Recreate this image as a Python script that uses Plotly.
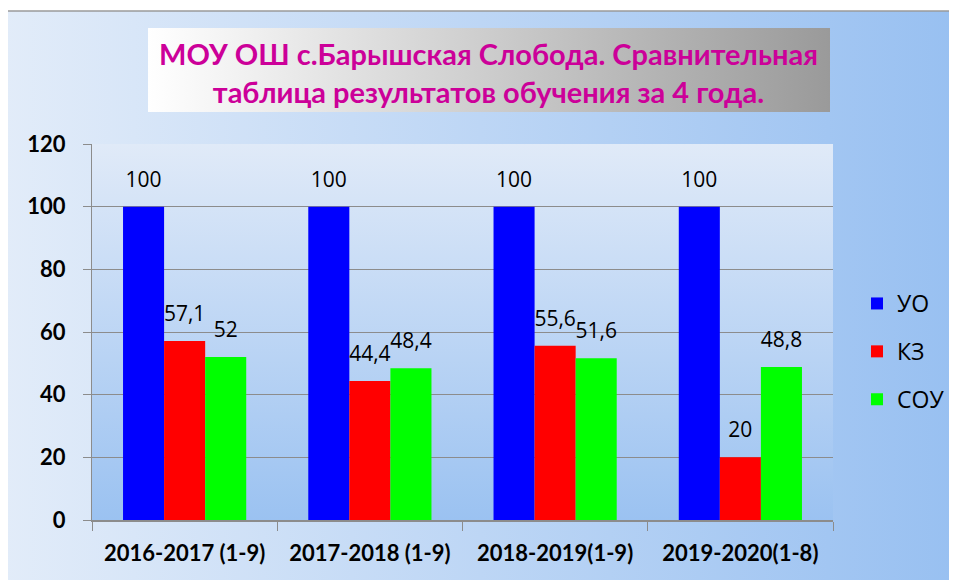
import base64
import plotly.graph_objects as go

categories = ["2016-2017 (1-9)", "2017-2018 (1-9)", "2018-2019(1-9)", "2019-2020(1-8)"]
uo = [100, 100, 100, 100]
kz = [57.1, 44.4, 55.6, 20]
sou = [52, 48.4, 51.6, 48.8]
series_names = ["УО", "КЗ", "СОУ"]
title_lines = ["МОУ ОШ с.Барышская Слобода. Сравнительная", "таблица результатов обучения за 4 года."]
y_ticks = [0, 20, 40, 60, 80, 100, 120]

# page body has an 8px margin, so the figure is sized/offset to compensate
OFF = 8
W, H = 957 - OFF, 580 - OFF
L, R, T, B = 92 - OFF, 833 - OFF, 144 - OFF, 520 - OFF  # plot area in figure px
PW, PH = R - L, B - T


def fmt(v):
    return ("%g" % v).replace(".", ",")


def grad_svg(c1, c2, horizontal=True):
    x2, y2 = ("1", "0") if horizontal else ("0", "1")
    svg = ('<svg xmlns="http://www.w3.org/2000/svg" width="100" height="100" preserveAspectRatio="none">'
           '<defs><linearGradient id="g" x1="0" y1="0" x2="%s" y2="%s">'
           '<stop offset="0" stop-color="%s"/><stop offset="1" stop-color="%s"/>'
           '</linearGradient></defs><rect width="100" height="100" fill="url(#g)"/></svg>') % (x2, y2, c1, c2)
    return "data:image/svg+xml;base64," + base64.b64encode(svg.encode()).decode()


def px_x(px):
    return (px - L) / PW


def px_y(py):
    return (B - py) / PH


def px_img(src, x0, y0, x1, y1):
    return dict(source=src, xref="paper", yref="paper",
                x=px_x(x0), y=px_y(y0), sizex=(x1 - x0) / PW, sizey=(y1 - y0) / PH,
                xanchor="left", yanchor="top", sizing="stretch", layer="below")


fig = go.Figure()
colors = ["#0000ff", "#ff0000", "#00ff00"]
for i, (name, vals, col) in enumerate(zip(series_names, [uo, kz, sou], colors)):
    fig.add_trace(go.Bar(
        x=categories, y=vals, name=name, marker=dict(color=col, line=dict(width=0)),
        offsetgroup=str(i), legendgroup=str(i), hoverinfo="skip",
    ))
for i, vals in enumerate([uo, kz, sou]):
    fig.add_trace(go.Scatter(
        x=categories, y=vals, mode="markers+text", text=[fmt(v) for v in vals],
        textposition="top center", offsetgroup=str(i), showlegend=False,
        marker=dict(size=22, color="rgba(0,0,0,0)"),
        textfont=dict(family="Open Sans, sans-serif", size=21, color="#000000"),
        cliponaxis=False, hoverinfo="skip",
    ))

images = [
    px_img(grad_svg("#e2ecf9", "#98c0f1"), -3, 3, W, H),
    px_img(grad_svg("#e0eaf8", "#9bc2f1", horizontal=False), L, T, R, B),
    px_img(grad_svg("#ffffff", "#9a9a9a"), 140, 20, 822, 104),
]

fig.update_layout(
    width=W, height=H,
    margin=dict(l=L, r=W - R, t=T, b=H - B, pad=0, autoexpand=False),
    paper_bgcolor="#ffffff", plot_bgcolor="rgba(0,0,0,0)",
    barmode="group", bargap=0.335, bargroupgap=0,
    scattermode="group", scattergap=0.335,
    font=dict(family="Open Sans, sans-serif", color="#000000"),
    images=images,
    showlegend=True,
    legend=dict(x=px_x(849), y=px_y(274), xanchor="left", yanchor="top",
                bgcolor="rgba(0,0,0,0)", font=dict(size=23, family="Open Sans, sans-serif"),
                tracegroupgap=15, itemsizing="constant"),
    shapes=[
        dict(type="line", xref="paper", yref="paper",
             x0=px_x(-3), x1=px_x(W), y0=px_y(3), y1=px_y(3),
             line=dict(color="#9a9a9a", width=1.5), layer="below"),
    ],
    annotations=[
        dict(text="<b>" + title_lines[0] + "<br>" + title_lines[1] + "</b>",
             xref="paper", yref="paper", x=px_x(481), y=px_y(64),
             xanchor="center", yanchor="middle", showarrow=False,
             font=dict(family="Lato, sans-serif", size=29, color="#cc0099")),
    ],
)

fig.update_yaxes(range=[0, 120], tickvals=y_ticks, showgrid=True, gridcolor="#8c8c8c", gridwidth=1,
                 showline=True, linecolor="#8c8c8c", linewidth=1, ticks="outside", ticklen=8,
                 tickcolor="#8c8c8c", zeroline=False, ticklabelstandoff=13,
                 tickfont=dict(family="Lato, sans-serif", size=22, color="#000000", weight="bold"))
fig.update_xaxes(showline=True, linecolor="#8c8c8c", linewidth=1.5, ticks="outside", ticklen=9,
                 tickcolor="#8c8c8c", tickson="boundaries", ticklabelstandoff=13,
                 tickfont=dict(family="Lato, sans-serif", size=22, color="#000000", weight="bold"))

fig.write_html("out.html")
